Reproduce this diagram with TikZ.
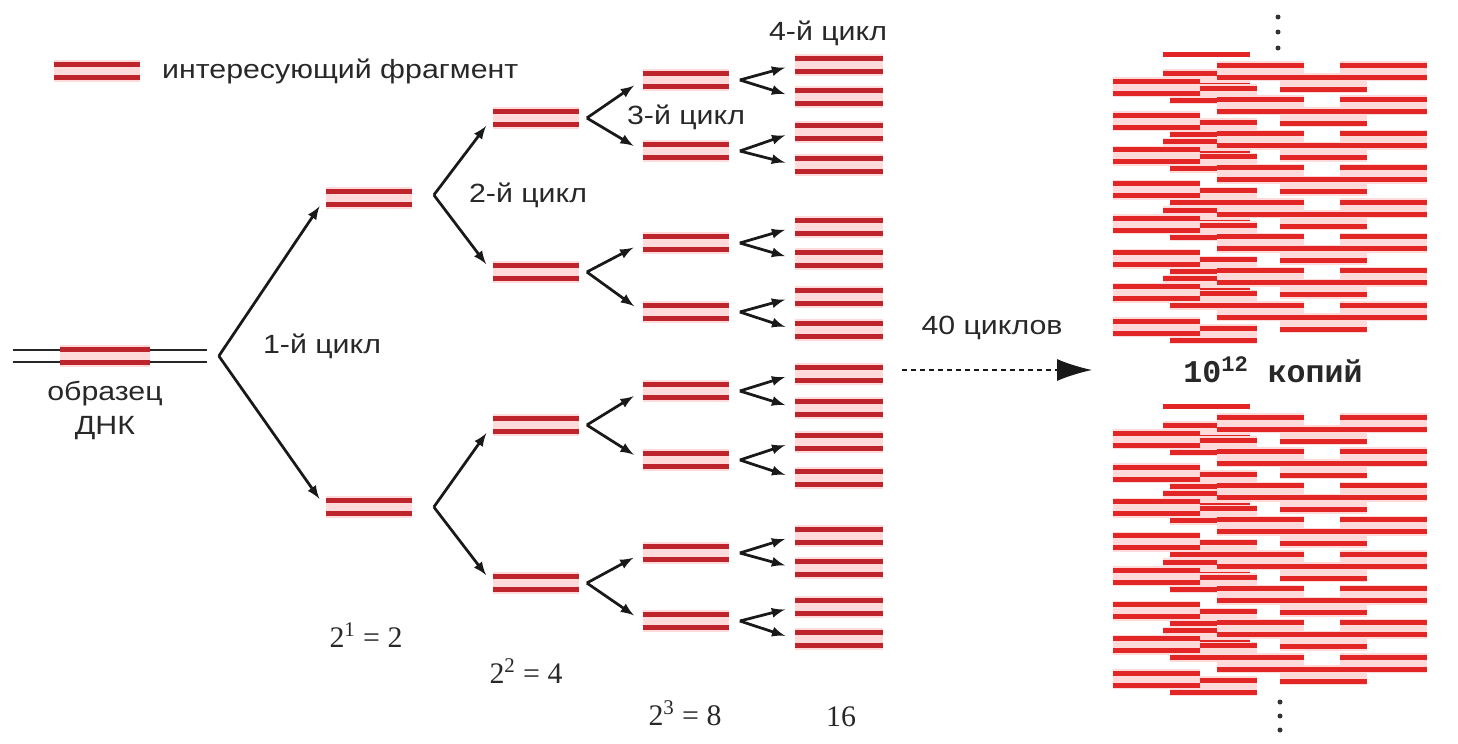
\documentclass[tikz,border=0pt]{standalone}
\usepackage{fontspec}
\setmainfont{Liberation Sans}[FakeStretch=1.15]
\newfontfamily\numfont{Liberation Serif}
\newfontfamily\copyfont{Liberation Mono}
\usetikzlibrary{positioning,calc,arrows,arrows.meta}
\definecolor{fragred}{RGB}{190,36,44}
\definecolor{fraghalo}{RGB}{255,218,218}
\definecolor{copyred}{RGB}{226,38,38}
\definecolor{txt}{RGB}{40,40,40}

\tikzset{
  frag/.style={minimum width=1.74cm,minimum height=0.44cm,inner sep=0pt,fill=fraghalo,
    path picture={
      \foreach \dy in {0.13cm,-0.13cm}
        \draw[fragred,line width=0.085cm] ([yshift=\dy]path picture bounding box.west) -- ([yshift=\dy]path picture bounding box.east);
    }},
  dna/.style={minimum width=3.9cm,minimum height=0.44cm,inner sep=0pt,
    path picture={
      \foreach \dy in {0.12cm,-0.12cm}
        \draw[black!85,line width=0.04cm] ([yshift=\dy]path picture bounding box.west) -- ([yshift=\dy]path picture bounding box.east);
    }},
  branch/.style={black!90,line width=0.055cm,->,shorten >=0.2cm},
  lab/.style={text=txt,font=\fontsize{15pt}{17pt}\selectfont,inner sep=0pt},
  pow/.style={text=txt,font=\numfont\fontsize{17pt}{19pt}\selectfont,inner sep=0pt},
}

% one double strand of the copy collage, left end x, centre y
\newcommand{\copypair}[2]{%
  \fill[fraghalo] (#1,#2-10) rectangle ++(87,20);
  \foreach \dy in {-6,6}
    \draw[copyred,line width=0.1cm] (#1,#2+\dy) -- ++(87,0);
}
% one block of copies, top at y
\newcommand{\copyblock}[1]{%
  \draw[copyred,line width=0.1cm] (1163,#1) -- ++(87,0);
  \foreach \k in {0,...,3} {\copypair{1163}{#1+25+68.6*\k}}
  \foreach \k in {0,...,7} {\copypair{1170}{#1+40+34.3*\k}}
  \foreach \k in {0,...,7} {\copypair{1113}{#1+33+34.3*\k}}
  \foreach \k in {0,...,7} {\copypair{1217}{#1+17+34.3*\k}}
  \foreach \k in {0,...,7} {\copypair{1280}{#1+29+34.3*\k}}
  \foreach \k in {0,...,7} {\copypair{1340}{#1+17+34.3*\k}}
}

\begin{document}
\begin{tikzpicture}[x=0.02cm,y=-0.02cm,>=latex]
  \useasboundingbox (0,0) rectangle (1458,744);

  % legend
  \node[frag] (legbar) at (97,71) {};
  \node[lab,right=0.42cm of legbar] (legtext) {интересующий фрагмент};

  % sample
  \node[dna] (sample) at (110,356) {};
  \node[frag,minimum width=1.8cm] (target) at (105,356) {};
  \node[lab] (samplelbl) at (105,394) {образец};
  \node[lab] (dnalbl) at (105,428) {ДНК};

  % cycle 1
  \node[frag] (g1a) at (369,198) {};
  \node[frag] (g1b) at (369,507) {};
  \coordinate (v0) at ($(sample.east)+(11,0)$);
  \draw[branch] (v0) -- (g1a.west);
  \draw[branch] (v0) -- (g1b.west);
  \node[lab] (c1) at (322,346) {1-й цикл};

  % cycle 2
  \node[frag] (g2a) at (536,118) {};
  \node[frag] (g2b) at (536,272) {};
  \node[frag] (g2c) at (536,425) {};
  \node[frag] (g2d) at (536,583) {};
  \coordinate (v1a) at ($(g1a.east)+(21,-3)$);
  \coordinate (v1b) at ($(g1b.east)+(21,0)$);
  \draw[branch] (v1a) -- (g2a.west);
  \draw[branch] (v1a) -- (g2b.west);
  \draw[branch] (v1b) -- (g2c.west);
  \draw[branch] (v1b) -- (g2d.west);
  \node[lab] (c2) at (528,195) {2-й цикл};

  % cycle 3
  \foreach \y [count=\i] in {80,151,243,312,391,460,553,621}
    \node[frag] (g3\i) at (686,\y) {};
  \foreach \p [count=\i, evaluate=\i as \a using int(2*\i-1), evaluate=\i as \b using int(2*\i)] in {a,b,c,d} {
    \coordinate (v2\p) at ($(g2\p.east)+(7,0)$);
    \draw[branch] (v2\p) -- (g3\a.west);
    \draw[branch] (v2\p) -- (g3\b.west);
  }
  \node[lab] (c3) at (686,117) {3-й цикл};

  % cycle 4
  \foreach \y [count=\i] in {65,97,132,165,227,259,297,330,374,408,442,478,536,568,607,639}
    \node[frag,minimum width=1.76cm] (g4\i) at (839,\y) {};
  \foreach \i [evaluate=\i as \a using int(2*\i-1), evaluate=\i as \b using int(2*\i)] in {1,...,8} {
    \coordinate (v3\i) at ($(g3\i.east)+(10,0)$);
    \draw[branch] (v3\i) -- (g4\a.west);
    \draw[branch] (v3\i) -- (g4\b.west);
  }
  \node[lab] (c4) at (828,33) {4-й цикл};

  % counts
  \node[pow] (n1) at (366,635) {2\textsuperscript{1} = 2};
  \node[pow] (n2) at (526,671) {2\textsuperscript{2} = 4};
  \node[pow] (n3) at (685,713) {2\textsuperscript{3} = 8};
  \node[pow] (n4) at (841,717) {16};

  % 40 cycles
  \node[lab] (c40) at (992,328) {40 циклов};
  \coordinate (dstart) at (902,370);
  \coordinate (dend) at (1092,370);
  \draw[black!90,line width=0.03cm,dash pattern=on 0.1cm off 0.08cm,-{Latex[length=0.7cm,width=0.44cm]}] (dstart) -- (dend);

  % copies
  \copyblock{54}
  \copyblock{406}
  \node[text=txt,font=\copyfont\bfseries\fontsize{18pt}{20pt}\selectfont,inner sep=0pt] (copies) at (1273,370) {10\textsuperscript{12} копий};
  \foreach \y in {17,32,48} \fill[black!80] (1278,\y) circle (0.05cm);
  \foreach \y in {702,716,730} \fill[black!80] (1280,\y) circle (0.05cm);
\end{tikzpicture}
\end{document}
